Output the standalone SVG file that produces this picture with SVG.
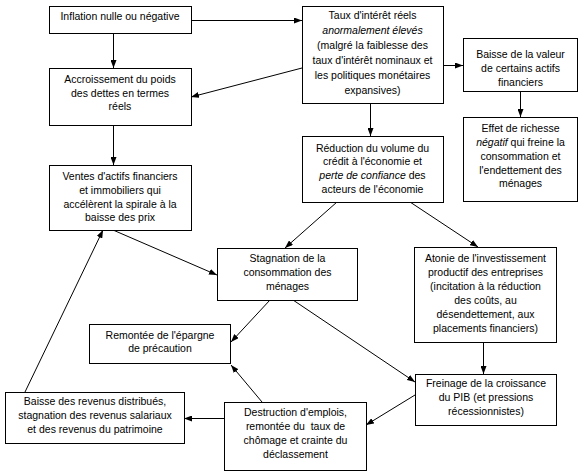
<svg xmlns="http://www.w3.org/2000/svg" width="585" height="476" viewBox="0 0 585 476">
<defs>
<marker id="ah" viewBox="0 0 8 6" refX="8" refY="3" markerWidth="8" markerHeight="6" markerUnits="userSpaceOnUse" orient="auto">
<path d="M0,0 L8,3 L0,6 z" fill="#000"/>
</marker>
<style>
rect.box{fill:#fff;stroke:#000;stroke-width:1}
text{font-family:"Liberation Sans",Arial,sans-serif;font-size:10.5px;fill:#000;text-anchor:middle}
.it{font-style:italic}
#connectors line{stroke:#000;stroke-width:1;marker-end:url(#ah)}
</style>
</defs>
<rect width="585" height="476" fill="#fff"/>
<g id="connectors">
<line x1="191" y1="20.5" x2="302" y2="20.5"/>
<line x1="113.5" y1="33" x2="113.5" y2="68"/>
<line x1="302" y1="68" x2="191" y2="97"/>
<line x1="443" y1="65.5" x2="463" y2="65.5"/>
<line x1="520.5" y1="91" x2="520.5" y2="117"/>
<line x1="370.5" y1="103" x2="370.5" y2="136"/>
<line x1="113.5" y1="125" x2="113.5" y2="165"/>
<line x1="113" y1="230" x2="217" y2="275"/>
<line x1="337" y1="202" x2="285" y2="248"/>
<line x1="410" y1="202" x2="478" y2="247"/>
<line x1="483.5" y1="342" x2="483.5" y2="374"/>
<line x1="293" y1="300" x2="415" y2="382"/>
<line x1="270" y1="300" x2="231" y2="342"/>
<line x1="415" y1="395" x2="366" y2="425"/>
<line x1="262" y1="402" x2="231" y2="365"/>
<line x1="224" y1="418.5" x2="184" y2="418.5"/>
<line x1="25" y1="392" x2="103" y2="230"/>
</g>
<g id="n1"><rect class="box" x="49.5" y="6.5" width="142" height="27"/>
<text x="120" y="20">Inflation nulle ou négative</text></g>
<g id="n2"><rect class="box" x="302.5" y="6.5" width="141" height="97"/>
<text x="372.5" y="19">Taux d'intérêt réels</text>
<text x="372.5" y="34" class="it">anormalement élevés</text>
<text x="372.5" y="49">(malgré la faiblesse des</text>
<text x="372.5" y="64">taux d'intérêt nominaux et</text>
<text x="372.5" y="79">les politiques monétaires</text>
<text x="372.5" y="94">expansives)</text></g>
<g id="n3"><rect class="box" x="49.5" y="68.5" width="142" height="57"/>
<text x="120" y="83">Accroissement du poids</text>
<text x="120" y="97">des dettes en termes</text>
<text x="120" y="110">réels</text></g>
<g id="n4"><rect class="box" x="463.5" y="38.5" width="114" height="53"/>
<text x="520.5" y="58">Baisse de la valeur</text>
<text x="520.5" y="72">de certains actifs</text>
<text x="520.5" y="86">financiers</text></g>
<g id="n5"><rect class="box" x="463.5" y="117.5" width="114" height="84"/>
<text x="520.5" y="132">Effet de richesse</text>
<text x="520.5" y="146"><tspan class="it">négatif</tspan> qui freine la</text>
<text x="520.5" y="160">consommation et</text>
<text x="520.5" y="174">l'endettement des</text>
<text x="520.5" y="187">ménages</text></g>
<g id="n6"><rect class="box" x="302.5" y="136.5" width="141" height="66"/>
<text x="372.5" y="152">Réduction du volume du</text>
<text x="372.5" y="165">crédit à l'économie et</text>
<text x="372.5" y="179"><tspan class="it">perte de confiance</tspan> des</text>
<text x="372.5" y="193">acteurs de l'économie</text></g>
<g id="n7"><rect class="box" x="49.5" y="165.5" width="142" height="65"/>
<text x="120" y="180">Ventes d'actifs financiers</text>
<text x="120" y="194">et immobiliers qui</text>
<text x="120" y="208">accélèrent la spirale à la</text>
<text x="120" y="221">baisse des prix</text></g>
<g id="n8"><rect class="box" x="217.5" y="248.5" width="140" height="52"/>
<text x="287.5" y="262">Stagnation de la</text>
<text x="287.5" y="276">consommation des</text>
<text x="287.5" y="290">ménages</text></g>
<g id="n9"><rect class="box" x="414.5" y="247.5" width="142" height="95"/>
<text x="485.5" y="262">Atonie de l'investissement</text>
<text x="485.5" y="276">productif des entreprises</text>
<text x="485.5" y="290">(incitation à la réduction</text>
<text x="485.5" y="304">des coûts, au</text>
<text x="485.5" y="318">désendettement, aux</text>
<text x="485.5" y="332">placements financiers)</text></g>
<g id="n10"><rect class="box" x="415.5" y="374.5" width="141" height="51"/>
<text x="486" y="387">Freinage de la croissance</text>
<text x="486" y="401">du PIB (et pressions</text>
<text x="486" y="415">récessionnistes)</text></g>
<g id="n11"><rect class="box" x="89.5" y="324.5" width="141" height="39"/>
<text x="160" y="339">Remontée de l'épargne</text>
<text x="160" y="352">de précaution</text></g>
<g id="n12"><rect class="box" x="5.5" y="392.5" width="179" height="51"/>
<text x="95" y="405">Baisse des revenus distribués,</text>
<text x="95" y="419">stagnation des revenus salariaux</text>
<text x="95" y="433">et des revenus du patrimoine</text></g>
<g id="n13"><rect class="box" x="224.5" y="402.5" width="142" height="68"/>
<text x="295.5" y="416">Destruction d'emplois,</text>
<text x="295.5" y="430" style="white-space:pre">remontée du  taux de</text>
<text x="295.5" y="444">chômage et crainte du</text>
<text x="295.5" y="458">déclassement</text></g>
</svg>
